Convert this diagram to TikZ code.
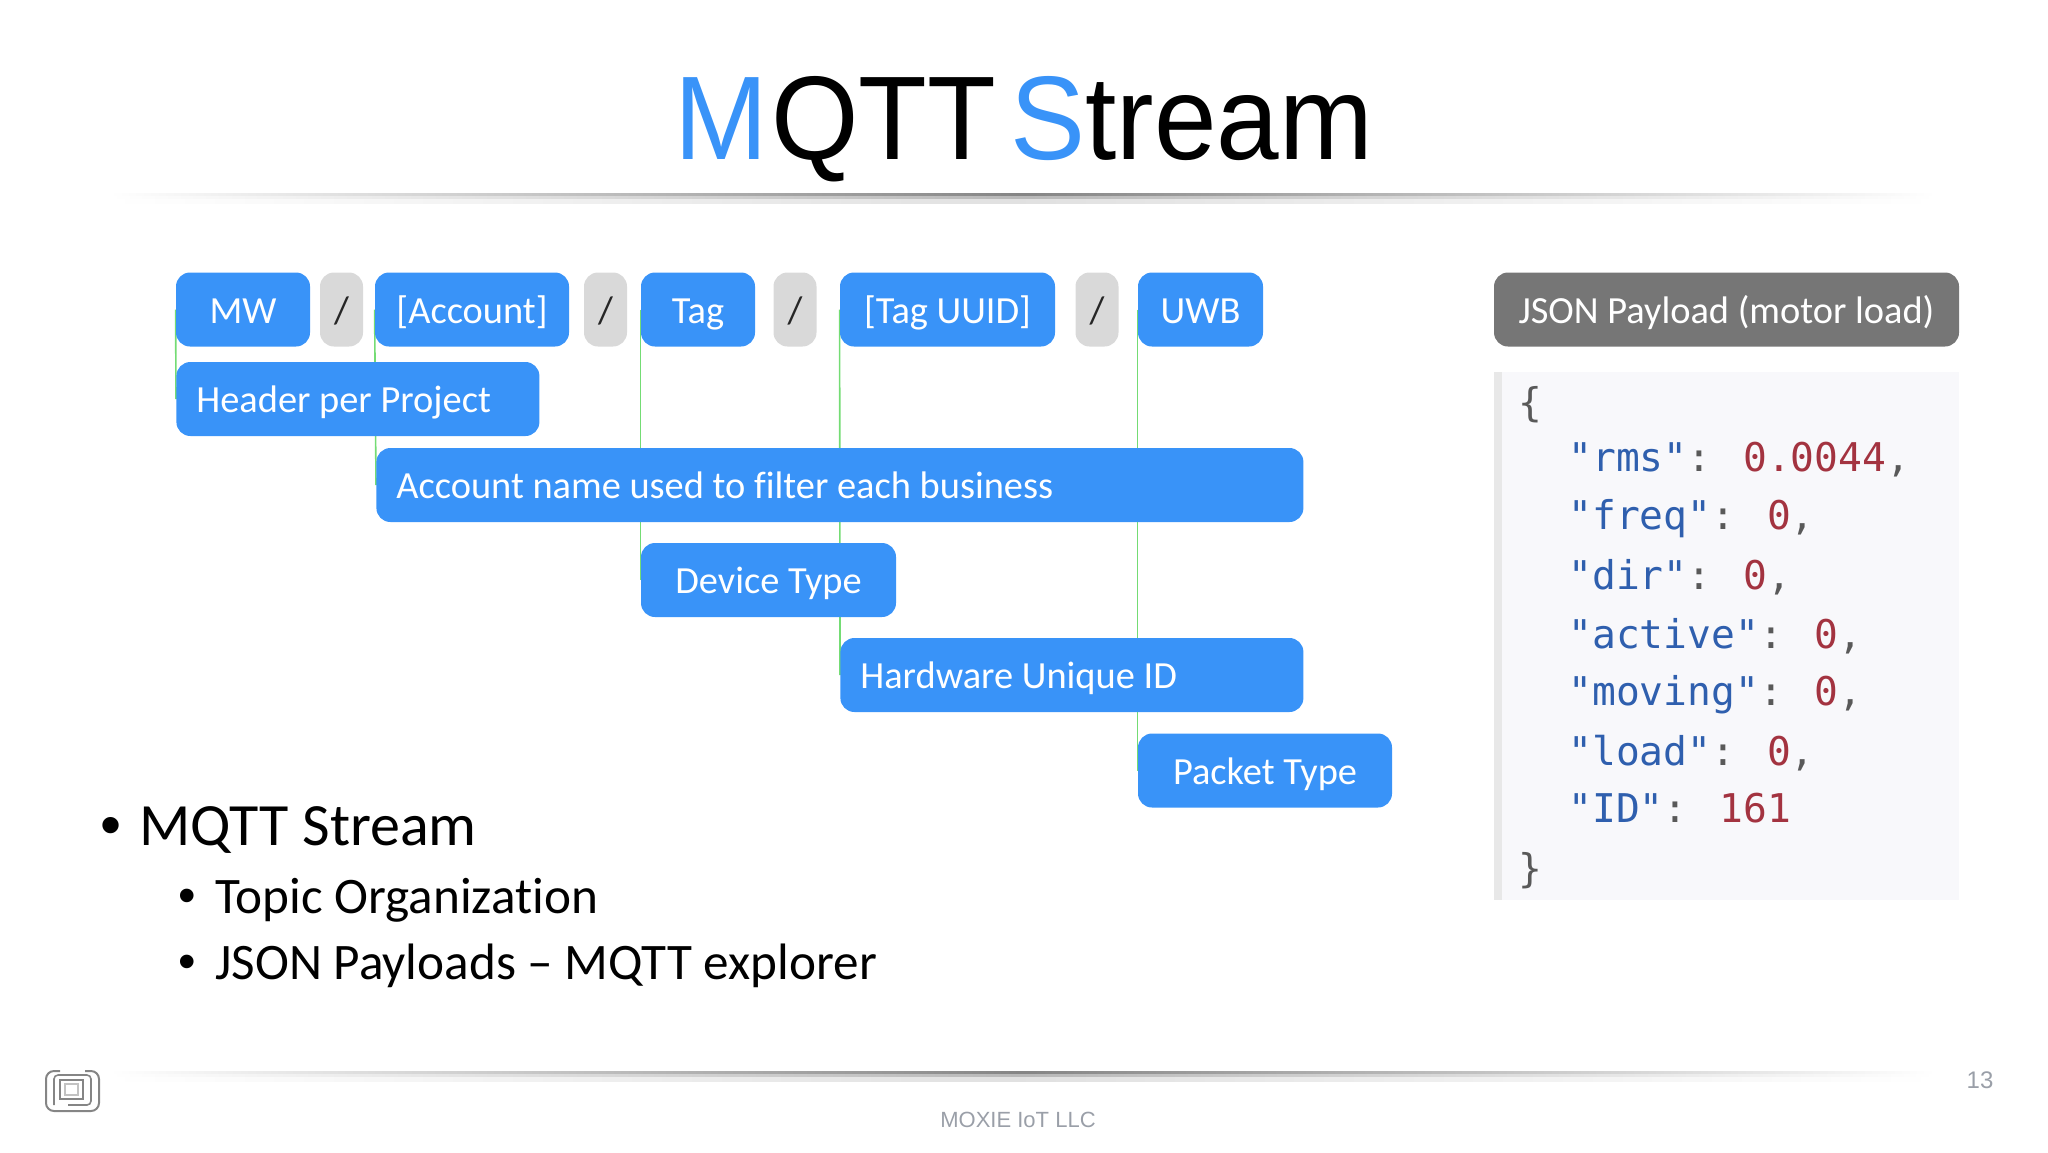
\documentclass[tikz,border=0pt]{standalone}
\usepackage{fontspec}
\usetikzlibrary{backgrounds}
\setmainfont[Ligatures=NoCommon]{Carlito}
\newfontfamily\titlefont{Liberation Sans}
\newfontfamily\codefont{DejaVu Sans Mono}
\definecolor{moxieblue}{HTML}{3993F8}
\definecolor{slashgray}{HTML}{D9D9D9}
\definecolor{headgray}{HTML}{767676}
\definecolor{linkgreen}{HTML}{74DC74}
\definecolor{panelgray}{HTML}{F8F8FB}
\definecolor{barcolor}{HTML}{E8E8E8}
\definecolor{keyblue}{HTML}{2F5FAE}
\definecolor{numred}{HTML}{A33340}
\definecolor{footgray}{HTML}{9A9FA8}
\definecolor{logogray}{HTML}{858585}
\newcommand{\codekey}[1]{\textcolor{keyblue}{#1}}
\newcommand{\codenum}[1]{\textcolor{numred}{#1}}
\tikzset{
	chip/.style={rectangle,rounded corners=7pt,fill=moxieblue,text=white,font=\fontsize{19.2}{22}\selectfont,minimum height=37pt,inner sep=0pt,text height=16pt,text depth=2.5pt},
	slashchip/.style={chip,fill=slashgray,text=black!85,minimum width=21.5pt},
	leftchip/.style={chip,anchor=west,align=left,inner xsep=10pt,execute at begin node={\spaceskip=0pt \xspaceskip=0pt }},
	link/.style={linkgreen,line width=0.8pt},
	codeline/.style={anchor=west,inner sep=0pt,text=black!65,font=\codefont\fontsize{19.8}{24}\selectfont},
	bigbullet/.style={anchor=base west,inner sep=0pt,font=\fontsize{30}{34}\selectfont},
	subbullet/.style={anchor=base west,inner sep=0pt,font=\fontsize{25.6}{30}\selectfont},
	bigdot/.style={anchor=center,inner sep=0pt,font=\titlefont\fontsize{30}{34}\selectfont},
	subdot/.style={anchor=center,inner sep=0pt,font=\titlefont\fontsize{25}{30}\selectfont}
}
\begin{document}
\begin{tikzpicture}[x=0.5pt,y=-0.5pt]
	\useasboundingbox (0,0) rectangle (2048,1152);
	% title and rules
	\node[anchor=base,inner sep=0pt,xscale=0.945,transform shape,font=\titlefont\fontsize{59.5}{66}\selectfont] (title) at (1024,159) {{\color{moxieblue}M}\kern1.5pt QTT\kern-9pt\ {\color{moxieblue}S}tream};
	\foreach \ruley in {193,1071} {
		\shade[left color=white,right color=white,middle color=black!48] (110,\ruley) rectangle (1935,\ruley+3);
		\shade[left color=white,right color=white,middle color=black!28] (110,\ruley+3) rectangle (1935,\ruley+6);
		\shade[left color=white,right color=white,middle color=black!12] (110,\ruley+6) rectangle (1935,\ruley+10);
	}
	% topic chips
	\node[chip,minimum width=67pt] (MW) at (243,309.5) {MW};
	\node[slashchip] (slashA) at (341.5,309.5) {/};
	\node[chip,minimum width=97pt] (Account) at (472,309.5) {[Account]};
	\node[slashchip] (slashB) at (605.5,309.5) {/};
	\node[chip,minimum width=57pt] (Tag) at (698,309.5) {Tag};
	\node[slashchip] (slashC) at (795,309.5) {/};
	\node[chip,minimum width=107.5pt] (TagUUID) at (947.5,309.5) {[Tag UUID]};
	\node[slashchip] (slashD) at (1097,309.5) {/};
	\node[chip,minimum width=62.5pt] (UWB) at (1200.5,309.5) {UWB};
	\node[chip,fill=headgray,minimum width=232.5pt] (payload) at (1726.5,309.5) {JSON Payload (motor load)};
	% descriptions
	\node[leftchip,text width=161.5pt] (Header) at (176,399) {Header per Project};
	\node[leftchip,text width=443.5pt] (AccountName) at (376,485) {Account name used to filter each business};
	\node[chip,minimum width=127.5pt] (Device) at (768.5,580) {Device Type};
	\node[leftchip,text width=211.5pt] (Hardware) at (840,675) {Hardware Unique ID};
	\node[chip,minimum width=127pt] (Packet) at (1265,770.5) {Packet Type};
	% connectors sit behind the chips
	\begin{scope}[on background layer]
		\draw[link] (MW.west) -- (Header.west);
		\draw[link] (Account.west) -- (AccountName.west);
		\draw[link] (Tag.west) -- (Device.west);
		\draw[link] (TagUUID.west) -- (Hardware.west);
		\draw[link] (UWB.west) -- (Packet.west);
	\end{scope}
	% JSON panel
	\fill[panelgray] (1494,372) rectangle (1959,900);
	\fill[barcolor] (1494,372) rectangle (1502,900);
	\node[codeline] (codeA) at (1518,405) {\{};
	\node[codeline] (codeB) at (1568,460) {\codekey{"rms"}: \codenum{0.0044},};
	\node[codeline] (codeC) at (1568,519) {\codekey{"freq"}: \codenum{0},};
	\node[codeline] (codeD) at (1568,577) {\codekey{"dir"}: \codenum{0},};
	\node[codeline] (codeE) at (1568,636) {\codekey{"active"}: \codenum{0},};
	\node[codeline] (codeF) at (1568,695) {\codekey{"moving"}: \codenum{0},};
	\node[codeline] (codeG) at (1568,753) {\codekey{"load"}: \codenum{0},};
	\node[codeline] (codeH) at (1568,808) {\codekey{"ID"}: \codenum{161}};
	\node[codeline] (codeI) at (1518,871) {\}};
	% bullets
	\node[bigdot] (dotA) at (111,831) {•};
	\node[bigbullet] (bulletA) at (139,845) {MQTT Stream};
	\node[subdot] (dotB) at (187,901) {•};
	\node[subbullet] (bulletB) at (215,913) {Topic Organization};
	\node[subdot] (dotC) at (187,967) {•};
	\node[subbullet] (bulletC) at (215,979) {JSON Payloads – MQTT explorer};
	% footer
	\node[inner sep=0pt,text=footgray,font=\titlefont\fontsize{11}{14}\selectfont] (footer) at (1018,1120) {MOXIE IoT LLC};
	\node[inner sep=0pt,text=footgray,font=\titlefont\fontsize{12}{14}\selectfont] (pagenum) at (1980,1080) {13};
	\draw[logogray,line width=1pt,rounded corners=4pt] (60,1071) -- (46,1071) -- (46,1111) -- (99,1111) -- (99,1071) -- (85,1071);
	\draw[logogray,line width=0.8pt,rounded corners=2pt] (54,1105) -- (54,1075) -- (91,1075) -- (91,1105) -- (68,1105);
	\draw[logogray,line width=0.6pt] (60,1080) rectangle (83,1099);
	\draw[logogray!50,line width=0.6pt] (65,1084) rectangle (78,1095);
\end{tikzpicture}
\end{document}
